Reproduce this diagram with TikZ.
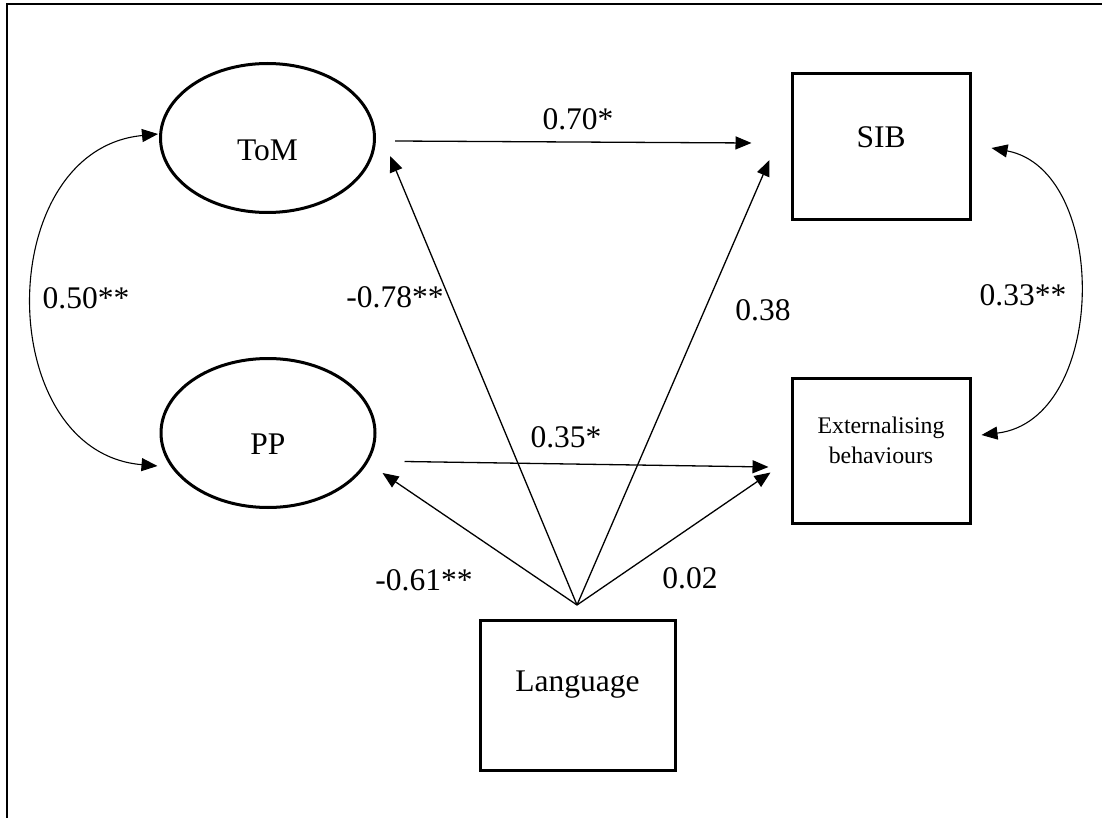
\documentclass[tikz,border=0pt]{standalone}
\usepackage{fontspec}
\setmainfont{Liberation Serif}
\usetikzlibrary{shapes.geometric,arrows.meta,calc}
\begin{document}
\begin{tikzpicture}[x=1pt,y=-1pt,
  big/.style={font=\fontsize{31.5}{36}\selectfont},
  latent/.style={ellipse,draw,line width=3pt,minimum width=214pt,minimum height=149pt,inner sep=0pt},
  observed/.style={rectangle,draw,line width=3pt,inner sep=0pt},
  arr/.style={line width=1.3pt,-{Triangle[length=16pt,width=13pt]}},
  darr/.style={line width=1.1pt,{Triangle[length=16pt,width=13pt]}-{Triangle[length=16pt,width=13pt]}},
  lab/.style={big,inner sep=0pt}]
\useasboundingbox (0,0) rectangle (1102,818);
% frame (top and left edges only)
\draw[line width=2pt] (7,818) -- (7,4) -- (1102,4);
% nodes
\node[latent,label={[big,yshift=-12pt]center:ToM}] (ToM) at (267.5,138) {};
\node[latent,label={[big,yshift=-11pt]center:PP}] (PP) at (268,433) {};
\node[observed,minimum width=178pt,minimum height=146pt,label={[big,yshift=10pt]center:SIB}] (SIB) at (881,147) {};
\node[observed,minimum width=178pt,minimum height=145pt] (Ext) at (881,450.5) {};
\node[font=\fontsize{23.8}{30}\selectfont,align=center,inner sep=0pt] (Exttext) at (881,440) {Externalising\\behaviours};
\node[observed,minimum width=195pt,minimum height=150pt,label={[big,yshift=10pt]center:Language}] (Lang) at (577.5,695) {};
\coordinate (apex) at (577,605);
% straight paths
\draw[arr] ($(ToM.east)+(19,3)$) -- ($(SIB.west)+(-39,-4)$);
\draw[arr] ($(PP.east)+(28,28.5)$) -- ($(Ext.west)+(-22,16.5)$);
\draw[arr] (apex) -- ($(ToM.east)+(14,18)$);
\draw[arr] (apex) -- ($(SIB.west)+(-21,13)$);
\draw[arr] (apex) -- ($(PP.east)+(6,40)$);
\draw[arr] (apex) -- ($(Ext.west)+(-20,22)$);
% covariances
\draw[darr] ($(ToM.west)+(-1,-4)$) .. controls (-8,150) and (-8,452) .. ($(PP.west)+(-2,33)$);
\draw[darr] ($(SIB.east)+(20,1)$) .. controls (1110,170) and (1108,420) .. ($(Ext.east)+(10,-15.5)$);
% labels
\node[lab] (l070) at (578,119) {0.70*};
\node[lab] (l035) at (566,437) {0.35*};
\node[lab] (l078) at (395,297) {-0.78**};
\node[lab] (l038) at (763,310) {0.38};
\node[lab] (l061) at (424,580) {-0.61**};
\node[lab] (l002) at (690,578) {0.02};
\node[lab] (l050) at (86,298) {0.50**};
\node[lab] (l033) at (1023,295) {0.33**};
\end{tikzpicture}
\end{document}
